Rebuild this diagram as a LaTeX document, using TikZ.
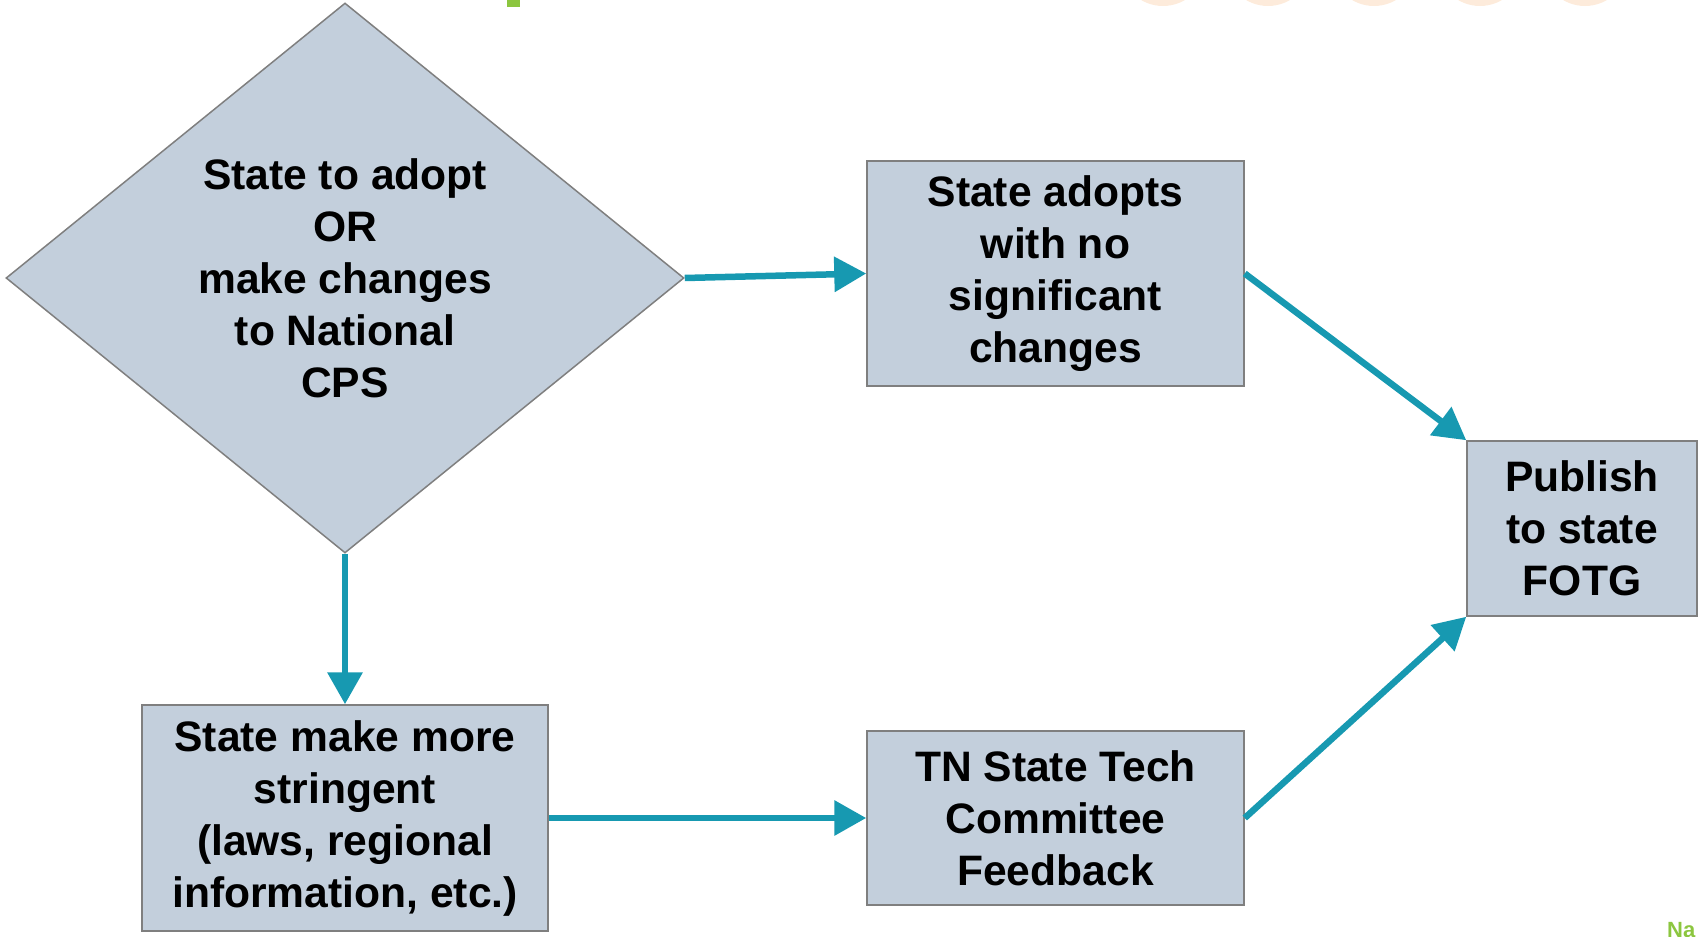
\documentclass[tikz,border=0pt]{standalone}
\usepackage{fontspec}
\setmainfont{Liberation Sans}
\usetikzlibrary{shapes.geometric,arrows.meta}
\definecolor{boxfill}{HTML}{C3CFDC}
\definecolor{boxline}{HTML}{7F7F7F}
\definecolor{flowteal}{HTML}{1799B1}
\definecolor{slidegreen}{HTML}{8CC63F}
\definecolor{peach}{HTML}{FDEBDB}
\tikzset{
    stepbox/.style={draw=boxline, line width=1.5pt, fill=boxfill, rectangle, align=center, inner sep=0pt},
    flow/.style={draw=flowteal, line width=6.5pt, -{Triangle[length=32pt,width=34pt]}}
}
\begin{document}
\begin{tikzpicture}[x=1pt, y=-1pt, font=\fontsize{42.6}{52}\selectfont\bfseries]
                \useasboundingbox (0,0) rectangle (1701,937);
                \clip (0,0) rectangle (1701,937);
                \fill[slidegreen] (507,0) rectangle (520,7);
                \foreach \cx in {1163,1268,1374,1480,1585}
                    \fill[peach] (\cx,-37) circle (43pt);
                \node[fill=boxfill, draw=boxline, line width=1.5pt, shape=diamond, minimum width=678pt, minimum height=550pt, inner sep=0pt, align=center] (decide) at (345,278) {State to adopt\\OR\\make changes\\to National\\CPS};
                \node[stepbox, minimum width=377pt, minimum height=225pt] (adopts) at (1055.5,273.5) {State adopts\\with no\\significant\\changes};
                \node[stepbox, minimum width=230pt, minimum height=175pt] (publish) at (1582,528.5) {Publish\\to state\\FOTG};
                \node[stepbox, minimum width=406pt, minimum height=226pt] (stringent) at (345,818) {State make more\\stringent\\(laws, regional\\information, etc.)};
                \node[stepbox, minimum width=377pt, minimum height=174pt] (techcomm) at (1055.5,818) {TN State Tech\\Committee\\Feedback};
                \draw[flow] (decide.east) -- (adopts.west);
                \draw[flow] (adopts.east) -- (publish.north west);
                \draw[flow] (decide.south) -- (stringent.north);
                \draw[flow] (stringent.east) -- (techcomm.west);
                \draw[flow] (techcomm.east) -- (publish.south west);
                \node[anchor=north west, inner sep=0pt, text=slidegreen, font=\fontsize{22}{26}\selectfont\bfseries] (footer) at (1667,922) {Na};
            \end{tikzpicture}
\end{document}
